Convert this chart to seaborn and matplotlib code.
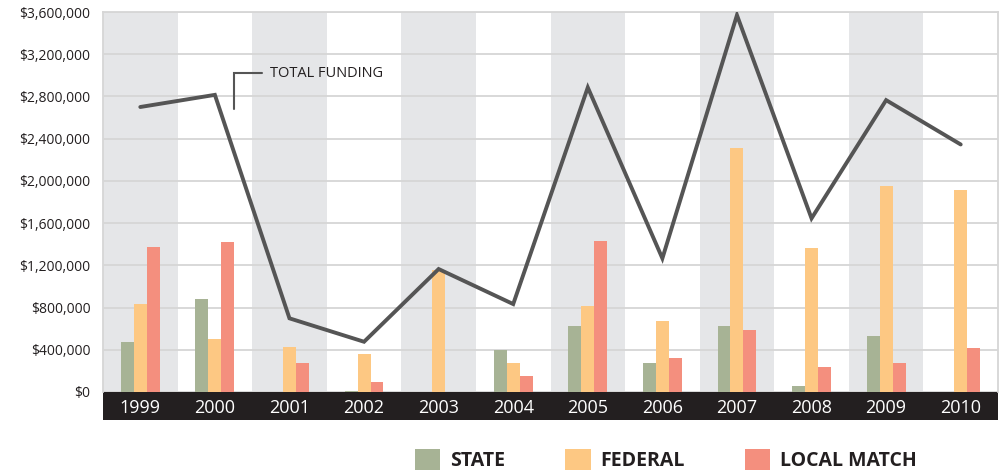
import numpy as np
import pandas as pd
import matplotlib
matplotlib.use('Agg')
import matplotlib.pyplot as plt
from matplotlib.patches import Patch, Rectangle
from matplotlib.ticker import FuncFormatter
import seaborn as sns

# Data
years = ['1999', '2000', '2001', '2002', '2003', '2004',
         '2005', '2006', '2007', '2008', '2009', '2010']
state = [470000, 880000, 0, 12000, 0, 400000,
         625000, 275000, 625000, 57000, 530000, 0]
federal = [830000, 500000, 426000, 360000, 1155000, 275000,
           814000, 672000, 2310000, 1364000, 1950000, 1913000]
local_match = [1370000, 1420000, 275000, 95000, 0, 150000,
               1433000, 320000, 587000, 237000, 275000, 417000]
total_funding = [2700000, 2815000, 698000, 476000, 1165000, 833000,
                 2885000, 1266000, 3570000, 1645000, 2765000, 2345000]
sources = ['STATE', 'FEDERAL', 'LOCAL MATCH']
colors = ['#A7B395', '#FDC883', '#F48F7E']

df = pd.DataFrame({'year': years, 'STATE': state, 'FEDERAL': federal,
                   'LOCAL MATCH': local_match})
long_df = df.melt(id_vars='year', var_name='source', value_name='amount')

sns.set_theme(style='white')
plt.rcParams['font.family'] = ['Open Sans', 'DejaVu Sans']

dark = '#231F20'
ymax = 3600000

fig = plt.figure(figsize=(10.07, 4.74), dpi=100)
ax = fig.add_axes([103 / 1007, 1 - 392 / 474, (998 - 103) / 1007, (392 - 12) / 474])

# dark strip under the baseline that holds the year labels
fig.add_artist(Rectangle((103 / 1007, 1 - 420 / 474), (998 - 103) / 1007, 28 / 474,
                         transform=fig.transFigure, color=dark, lw=0, zorder=-1))

# alternating column bands
for i in range(0, len(years), 2):
    ax.axvspan(i - 0.5, i + 0.5, color='#E5E6E8', zorder=0, lw=0)

ax.set_axisbelow(True)
ax.yaxis.grid(True, color='#D6D6D6', lw=1.3)

sns.barplot(data=long_df, x='year', y='amount', hue='source', hue_order=sources,
            palette=colors, width=0.52, saturation=1, ax=ax, zorder=2,
            legend=False, edgecolor='none', linewidth=0, err_kws={'linewidth': 0})

ax.plot(np.arange(len(years)), total_funding, color='#555555', lw=2.8,
        solid_joinstyle='miter', zorder=3)

ax.set_xlim(-0.5, len(years) - 0.5)
ax.set_ylim(0, ymax)
ax.set_yticks(np.arange(0, ymax + 1, 400000))
ax.yaxis.set_major_formatter(FuncFormatter(lambda v, p: f'${v:,.0f}'))
ax.tick_params(axis='y', length=0, pad=9, labelsize=10, labelcolor=dark)
ax.tick_params(axis='x', length=0, pad=5, labelsize=13, labelcolor='white')
ax.set_xlabel('')
ax.set_ylabel('')

for side in ['left', 'top', 'right']:
    ax.spines[side].set_color('#D6D6D6')
    ax.spines[side].set_linewidth(1.3)
ax.spines['bottom'].set_visible(False)

# "TOTAL FUNDING" callout
ax.plot([1.25, 1.25, 1.63], [2680000, 3020000, 3020000], color='#555555',
        lw=1.5, solid_joinstyle='miter', zorder=3)
ax.text(1.74, 3020000, 'TOTAL FUNDING', fontsize=10.5, color=dark,
        va='center', ha='left', zorder=3)

handles = [Patch(facecolor=c, edgecolor='none', label=s) for s, c in zip(sources, colors)]
fig.legend(handles=handles, loc='center', bbox_to_anchor=(666 / 1007, 1 - 460 / 474),
           ncol=3, frameon=False, prop={'weight': 'bold', 'size': 14},
           labelcolor=dark, handlelength=1.3, handleheight=1.3,
           handletextpad=0.5, columnspacing=3.1)

fig.savefig('out.png', dpi=100)
